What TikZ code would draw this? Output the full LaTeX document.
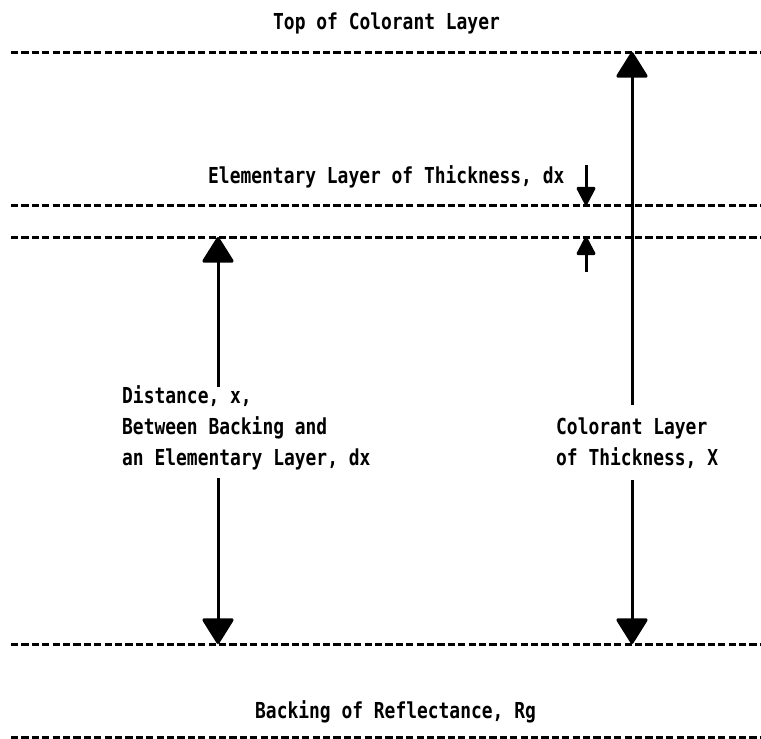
\documentclass[tikz,border=0pt]{standalone}
\usepackage{fontspec}
\newfontfamily\dotfont{DejaVu Sans Mono}[FakeStretch=0.815]
\usetikzlibrary{arrows.meta}
\begin{document}
\begin{tikzpicture}[x=1pt,y=-1pt,
  layer/.style={line width=3pt, dash pattern=on 7.2pt off 3.2pt},
  lbl/.style={font=\dotfont\bfseries\fontsize{22}{31}\selectfont, inner sep=0pt, anchor=base west},
  shaft/.style={line width=3pt},
  bighead/.style={-{Triangle[width=33pt,length=27pt,round]}},
  smallhead/.style={-{Triangle[width=20pt,length=20pt,round]}}]
\useasboundingbox (0,0) rectangle (761,739);
% layer boundaries
\coordinate (L1w) at (11,52);  \coordinate (L1e) at (761,52);
\coordinate (L2w) at (11,205); \coordinate (L2e) at (761,205);
\coordinate (L3w) at (11,237); \coordinate (L3e) at (761,237);
\coordinate (L4w) at (11,644); \coordinate (L4e) at (761,644);
\coordinate (L5w) at (11,737); \coordinate (L5e) at (761,737);
\foreach \i in {1,...,5} \draw[layer] (L\i w) -- (L\i e);
% texts
\node[lbl] (top) at (273,29) {Top of Colorant Layer};
\node[lbl] (elem) at (208,183) {Elementary Layer of Thickness, dx};
\node[lbl] (dist1) at (122,403) {Distance, x,};
\node[lbl] (dist2) at (122,434) {Between Backing and};
\node[lbl] (dist3) at (122,465) {an Elementary Layer, dx};
\node[lbl] (col1) at (556,434) {Colorant Layer};
\node[lbl] (col2) at (556,465) {of Thickness, X};
\node[lbl] (back) at (255,718) {Backing of Reflectance, Rg};
% right arrow: colorant layer thickness
\coordinate (R1) at (632,52);
\coordinate (Rt) at (632,405);
\coordinate (Rb) at (632,480);
\coordinate (R4) at (632,644);
\draw[shaft,bighead] (Rt) -- (R1);
\draw[shaft,bighead] (Rb) -- (R4);
% left arrow: distance x
\coordinate (A3) at (218,237);
\coordinate (At) at (218,387);
\coordinate (Ab) at (218,478);
\coordinate (A4) at (218,644);
\draw[shaft,bighead] (At) -- (A3);
\draw[shaft,bighead] (Ab) -- (A4);
% small arrows: elementary layer dx
\coordinate (s0) at (586,165);
\coordinate (s1) at (586,205);
\coordinate (u0) at (586,272);
\coordinate (u1) at (586,237);
\draw[shaft,smallhead] (s0) -- (s1);
\draw[shaft,smallhead] (u0) -- (u1);
\end{tikzpicture}
\end{document}
